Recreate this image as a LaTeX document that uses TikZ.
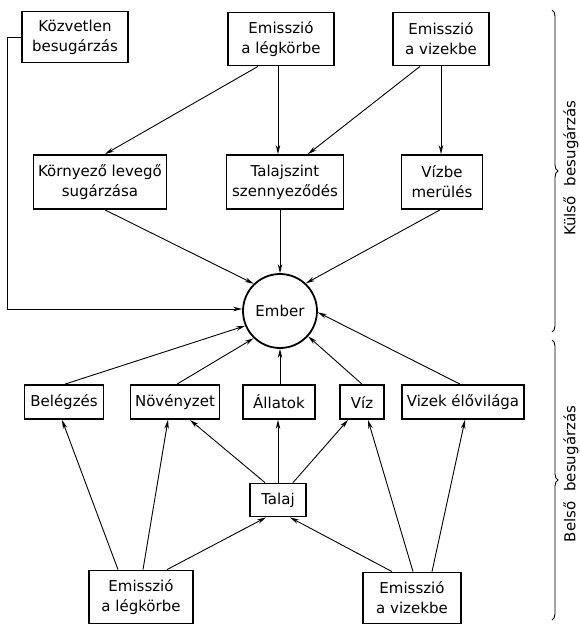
\documentclass[tikz,border=0pt]{standalone}
\usepackage{fontspec}
\setmainfont{DejaVu Sans}
\usetikzlibrary{arrows.meta,decorations.pathreplacing,calc}
\begin{document}
\begin{tikzpicture}[x=1pt,y=-1pt,
  box/.style={draw,line width=1.8pt,inner sep=0pt,align=center,font=\fontsize{15}{20}\selectfont},
  arr/.style={line width=0.9pt,-{Stealth[length=9pt,width=4.5pt]}},
  ln/.style={line width=0.9pt},
  brc/.style={line width=0.9pt,decorate,decoration={brace,amplitude=6pt}},
  side/.style={rotate=90,font=\fontsize{15}{18}\selectfont}]
\useasboundingbox (0,0) rectangle (580,625);
% top row
\node[box,minimum width=106pt,minimum height=51pt] (kb) at (75,37) {Közvetlen\\besugárzás};
\node[box,minimum width=106pt,minimum height=53pt] (el1) at (281,39) {Emisszió\\a légkörbe};
\node[box,minimum width=96pt,minimum height=53pt] (ev1) at (441,39) {Emisszió\\a vizekbe};
% second row
\node[box,minimum width=133pt,minimum height=54pt] (kl) at (100,182) {Környező levegő\\sugárzása};
\node[box,minimum width=117pt,minimum height=54pt] (tsz) at (285,182) {Talajszint\\szennyeződés};
\node[box,minimum width=81pt,minimum height=54pt] (vm) at (442,182) {Vízbe\\merülés};
% centre
\node[draw,circle,line width=1.8pt,minimum size=74pt,inner sep=0pt,font=\fontsize{15}{18}\selectfont] (ember) at (280,311) {Ember};
% lower row
\node[box,minimum width=79pt,minimum height=34pt] (bel) at (64,402) {Belégzés};
\node[box,minimum width=89pt,minimum height=34pt] (nov) at (175,402) {Növényzet};
\node[box,minimum width=72pt,minimum height=34pt] (all) at (279,402) {Állatok};
\node[box,minimum width=44pt,minimum height=34pt] (viz) at (362,402) {Víz};
\node[box,minimum width=122pt,minimum height=34pt] (vel) at (463,402) {Vizek élővilága};
\node[box,minimum width=56pt,minimum height=33pt] (talaj) at (278,500) {Talaj};
\node[box,minimum width=104pt,minimum height=53pt] (el2) at (141,597) {Emisszió\\a légkörbe};
\node[box,minimum width=98pt,minimum height=51pt] (ev2) at (412,598) {Emisszió\\a vizekbe};
% external connectors
\coordinate (c1) at ($(kb.west)+(-14,0)$);
\draw[ln] (kb.west) -- (c1);
\draw[arr] (c1) |- ([yshift=2pt]ember.west);
\draw[arr] ([xshift=-23pt]el1.south) -- ([xshift=5pt]kl.north);
\draw[arr] ([xshift=-3pt]el1.south) -- ([xshift=-7pt]tsz.north);
\draw[arr] ([xshift=-21pt]ev1.south) -- ([xshift=23pt]tsz.north);
\draw[arr] (ev1.south) -- (ev1.south |- vm.north);
\draw[arr] ([xshift=5pt]kl.south) -- (ember.134);
\draw[arr] (ember.north |- tsz.south) -- (ember.north);
\draw[arr] ([xshift=-2pt]vm.south) -- (ember.47);
% internal connectors
\draw[arr] ([xshift=1pt]bel.north) -- (ember.203);
\draw[arr] ([xshift=2pt]nov.north) -- (ember.226);
\draw[arr] (ember.south |- all.north) -- (ember.south);
\draw[arr] (viz.north) -- (ember.318);
\draw[arr] ([xshift=-3pt]vel.north) -- (ember.-2);
\draw[arr] ([xshift=-13pt]talaj.north) -- ([xshift=15pt]nov.south);
\draw[arr] (talaj.north) -- (talaj.north |- all.south);
\draw[arr] ([xshift=15pt]talaj.north) -- ([xshift=-14pt]viz.south);
\draw[arr] ([xshift=-23pt]el2.north) -- ([xshift=-2pt]bel.south);
\draw[arr] ([xshift=2pt]el2.north) -- ([xshift=-7pt]nov.south);
\draw[arr] ([xshift=26pt]el2.north) -- ([xshift=-12pt]talaj.south);
\draw[arr] ([xshift=-20pt]ev2.north) -- ([xshift=12pt]talaj.south);
\draw[arr] ([xshift=1pt]ev2.north) -- ([xshift=6pt]viz.south);
\draw[arr] ([xshift=20pt]ev2.north) -- ([xshift=2pt]vel.south);
% braces
\coordinate (b1a) at (552,10);
\coordinate (b1b) at (552,332);
\coordinate (b2a) at (552,340);
\coordinate (b2b) at (552,620);
\draw[brc] (b1a) -- (b1b);
\draw[brc] (b2a) -- (b2b);
\node[side] (kulso) at (571,168) {Külső\hspace{10pt}besugárzás};
\node[side] (belso) at (571,474) {Belső\hspace{10pt}besugárzás};
\end{tikzpicture}
\end{document}
